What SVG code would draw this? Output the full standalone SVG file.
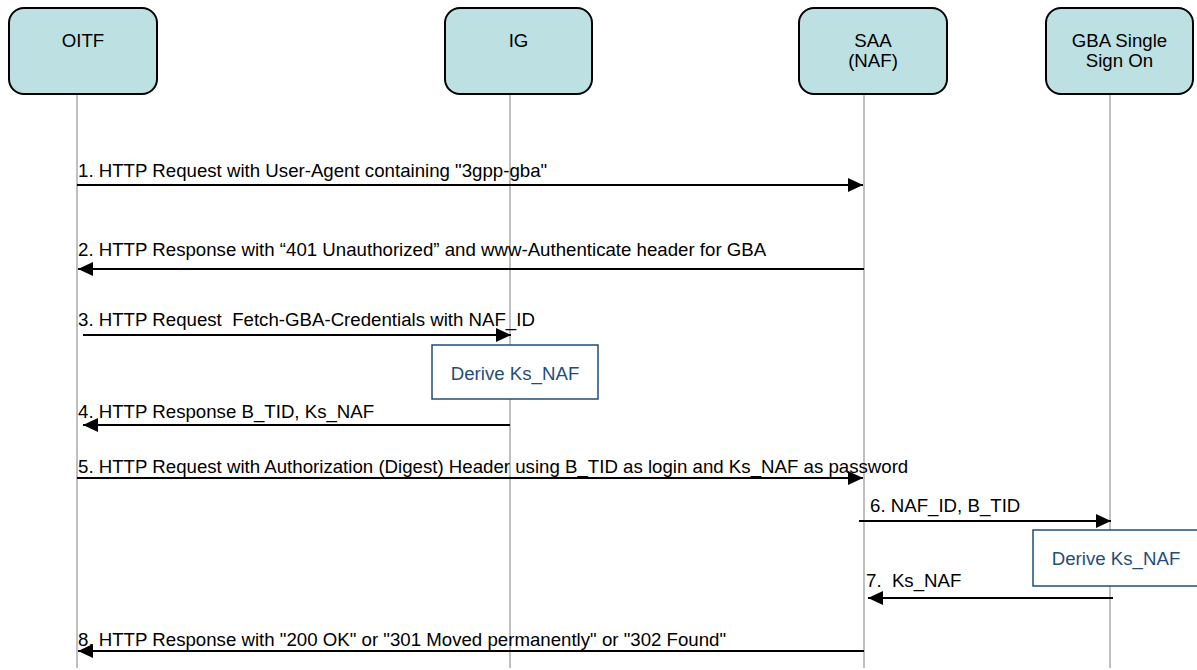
<svg xmlns="http://www.w3.org/2000/svg" width="1197" height="670" viewBox="0 0 1197 670">
<defs>
<style>
.node{fill:#bde0e3;stroke:#000;stroke-width:2}
.life{stroke:#c0c0c0;stroke-width:2}
.msg{stroke:#000;stroke-width:2;fill:none}
.t{font-family:"Liberation Sans",Arial,sans-serif;font-size:18.67px;fill:#000}
.c{text-anchor:middle}
.note{fill:#fff;stroke:#1f4e79;stroke-width:1.5}
.nt{font-family:"Liberation Sans",Arial,sans-serif;font-size:18.67px;fill:#1f4e79;text-anchor:middle}
</style>
<marker id="ah" markerWidth="15" markerHeight="14" refX="15" refY="7" orient="auto" markerUnits="userSpaceOnUse">
<path d="M0,0 L15,7 L0,14 Z" fill="#000"/>
</marker>
</defs>
<rect width="1197" height="670" fill="#fff"/>
<g id="lifelines">
<line class="life" x1="77" y1="94" x2="77" y2="668"/>
<line class="life" x1="510" y1="94" x2="510" y2="668"/>
<line class="life" x1="864" y1="94" x2="864" y2="668"/>
<line class="life" x1="1110" y1="94" x2="1110" y2="668"/>
</g>
<g id="OITF">
<rect class="node" x="9" y="8" width="148" height="86" rx="15"/>
<text class="t c" x="83" y="47">OITF</text>
</g>
<g id="IG">
<rect class="node" x="445" y="8" width="147" height="86" rx="15"/>
<text class="t c" x="518.5" y="47">IG</text>
</g>
<g id="SAA">
<rect class="node" x="799" y="8" width="148" height="86" rx="15"/>
<text class="t c" x="873" y="47">SAA</text>
<text class="t c" x="873" y="67">(NAF)</text>
</g>
<g id="GBA">
<rect class="node" x="1046" y="8" width="147" height="86" rx="15"/>
<text class="t c" x="1119.5" y="47">GBA Single</text>
<text class="t c" x="1119.5" y="67">Sign On</text>
</g>
<g id="derive1">
<rect class="note" x="432" y="345" width="166" height="54"/>
<text class="nt" x="515" y="380">Derive Ks_NAF</text>
</g>
<g id="derive2">
<rect class="note" x="1033" y="530" width="166" height="56"/>
<text class="nt" x="1116" y="565">Derive Ks_NAF</text>
</g>
<g id="connectors">
<line class="msg" x1="77" y1="185" x2="863" y2="185" marker-end="url(#ah)"/>
<line class="msg" x1="864" y1="269" x2="78" y2="269" marker-end="url(#ah)"/>
<line class="msg" x1="83" y1="335" x2="511" y2="335" marker-end="url(#ah)"/>
<line class="msg" x1="510" y1="425" x2="83" y2="425" marker-end="url(#ah)"/>
<line class="msg" x1="77" y1="478" x2="863" y2="478" marker-end="url(#ah)"/>
<line class="msg" x1="859" y1="521" x2="1111" y2="521" marker-end="url(#ah)"/>
<line class="msg" x1="1113" y1="598" x2="868" y2="598" marker-end="url(#ah)"/>
<line class="msg" x1="864" y1="651" x2="78" y2="651" marker-end="url(#ah)"/>
</g>
<g id="labels">
<text class="t" x="78" y="177">1. HTTP Request with User-Agent containing "3gpp-gba"</text>
<text class="t" x="78" y="256">2. HTTP Response with “401 Unauthorized” and www-Authenticate header for GBA</text>
<text class="t" x="78" y="326" xml:space="preserve">3. HTTP Request  Fetch-GBA-Credentials with NAF_ID</text>
<text class="t" x="78" y="418">4. HTTP Response B_TID, Ks_NAF</text>
<text class="t" x="78" y="473">5. HTTP Request with Authorization (Digest) Header using B_TID as login and Ks_NAF as password</text>
<text class="t" x="870" y="512">6. NAF_ID, B_TID</text>
<text class="t" x="866" y="587" xml:space="preserve">7.  Ks_NAF</text>
<text class="t" x="78" y="646">8. HTTP Response with "200 OK" or "301 Moved permanently" or "302 Found"</text>
</g>
</svg>
